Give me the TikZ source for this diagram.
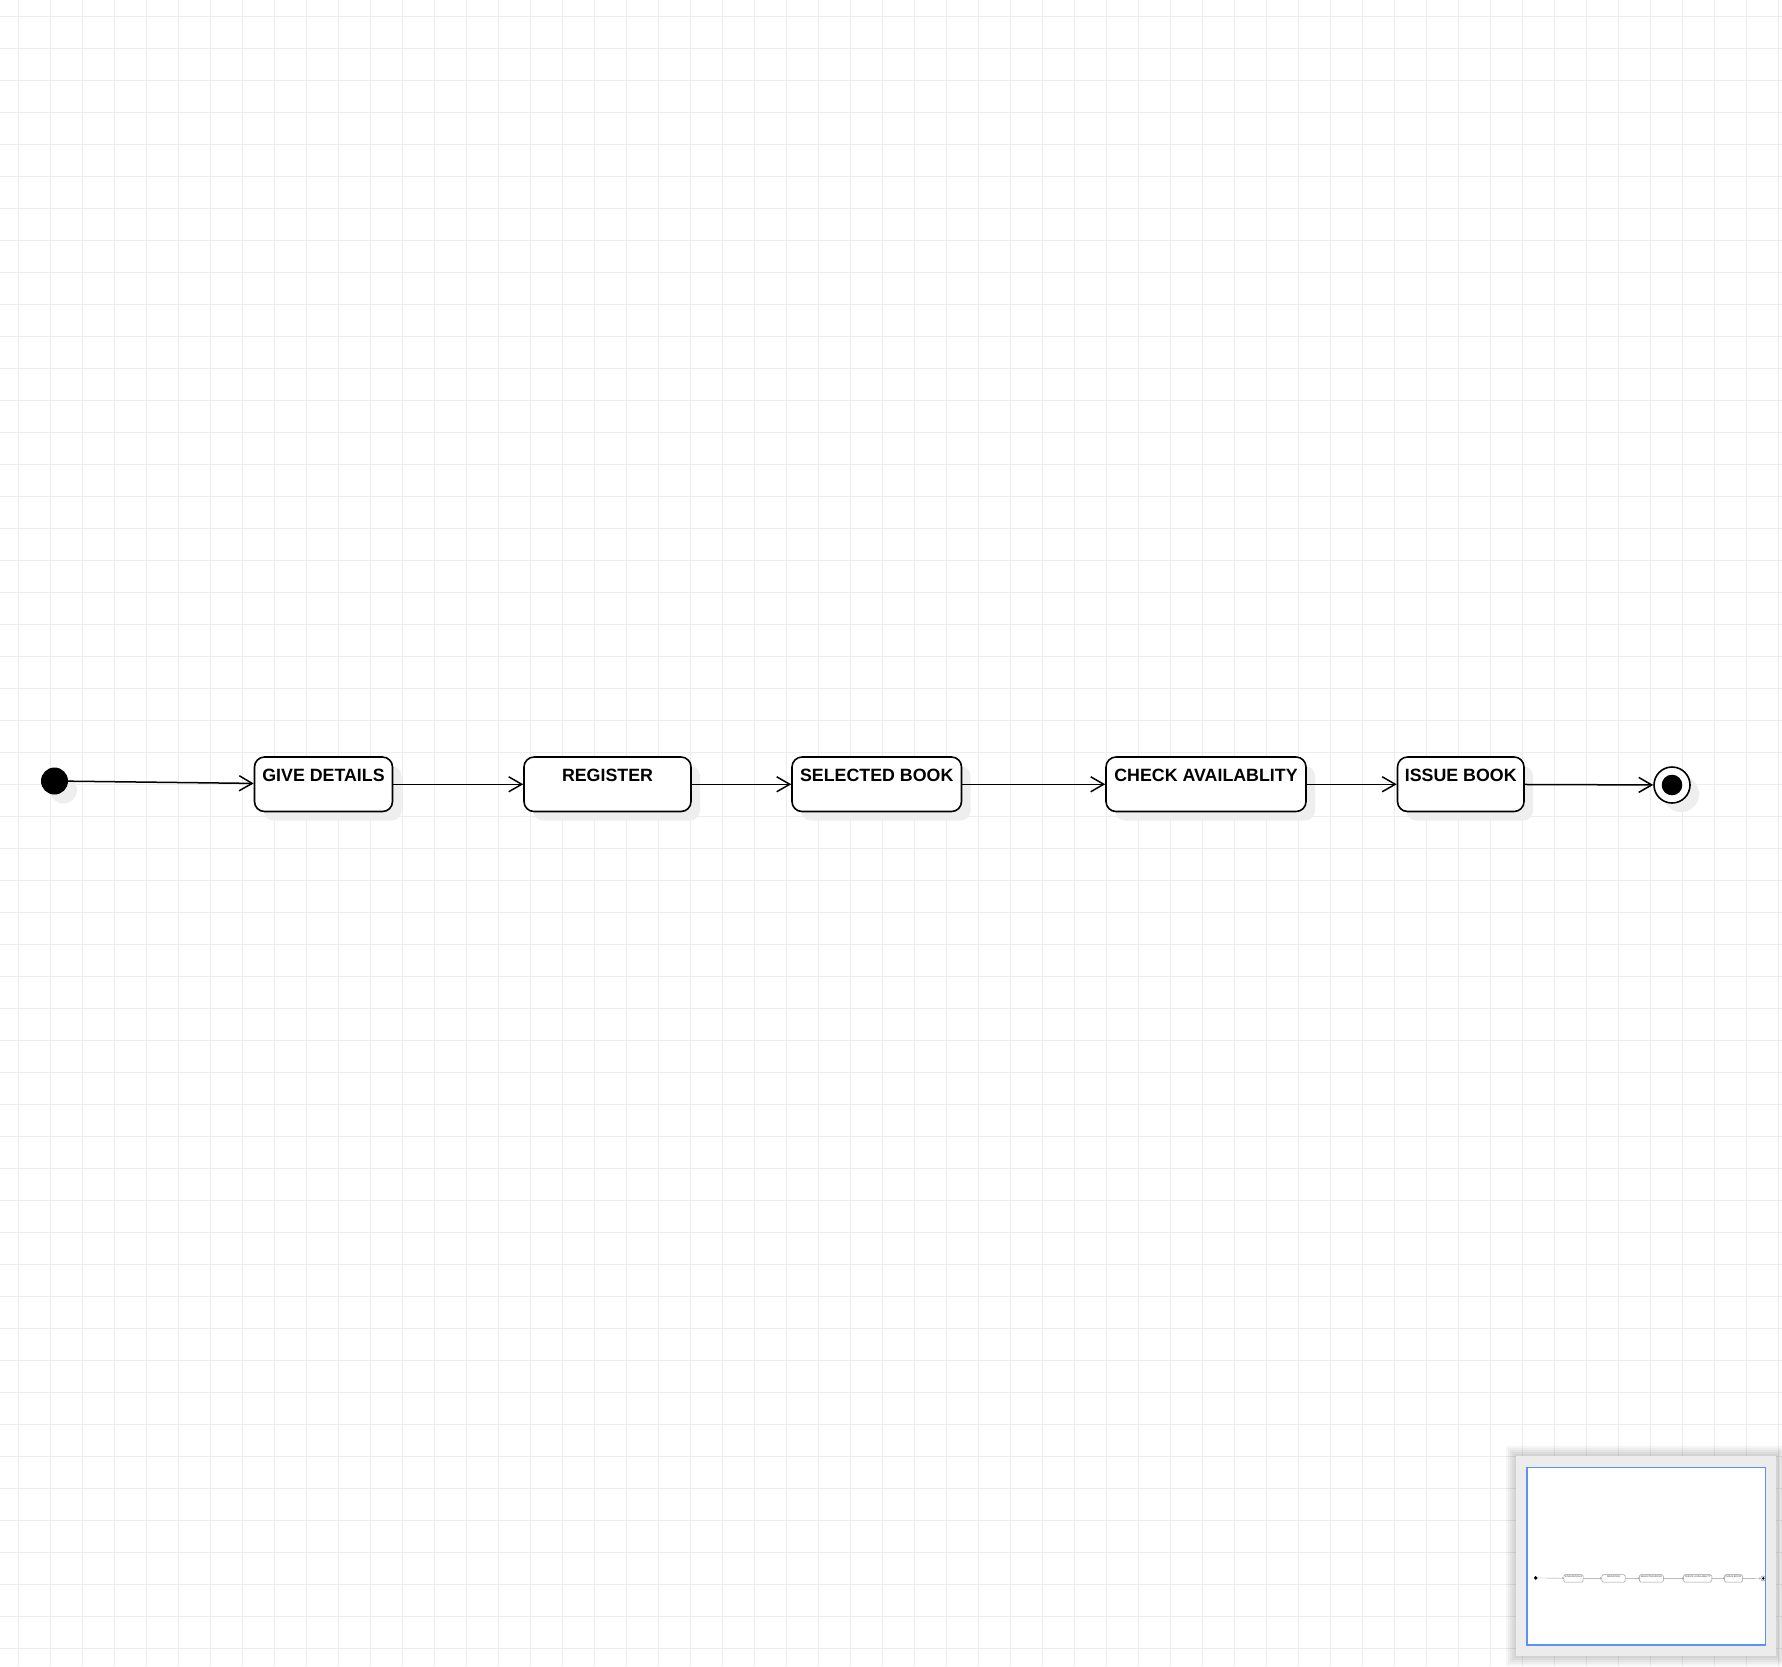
\documentclass[tikz,border=0pt]{standalone}
\usepackage{fontspec}
\setmainfont{Liberation Sans}
\usetikzlibrary{arrows.meta,shadows}

\definecolor{gridgray}{RGB}{236,236,236}
\definecolor{shadegray}{RGB}{238,238,238}
\definecolor{panelgray}{RGB}{236,236,236}
\definecolor{viewblue}{RGB}{95,145,245}

\tikzset{
  shadowed/.style={drop shadow={shadow xshift=9pt,shadow yshift=-9pt,fill=shadegray,opacity=1}},
  outline/.style={draw=black, line width=1.6pt},
  boxround/.style={rounded corners=10pt},
  statebox/.style={shadowed, outline, rectangle, boxround, fill=white,
    minimum height=54.5pt, inner xsep=4pt, inner ysep=10pt,
    text height=14pt, text depth=20.5pt,
    font=\fontsize{17.8}{20}\selectfont\bfseries},
  startdot/.style={shadowed, circle, fill=black, minimum size=27pt, inner sep=0pt},
  enddot/.style={shadowed, circle, outline, fill=white, minimum size=36pt, inner sep=0pt},
  endcore/.style={circle, fill=black, minimum size=20.6pt, inner sep=0pt},
  flow/.style={draw=black, line width=1.5pt, -{Straight Barb[length=13pt,width=15pt]}},
  gridline/.style={draw=gridgray, line width=1pt},
}

% the state chart, with a prefix for its node names
\newcommand\librarychart[1]{%
  \node[startdot] (#1init) at (54.5,781) {};
  \node[statebox, minimum width=138pt]   (#1give) at (323.5,784.25)  {GIVE DETAILS};
  \node[statebox, minimum width=167pt]   (#1reg)  at (607.5,784.25)  {REGISTER};
  \node[statebox, minimum width=169.5pt] (#1sel)  at (876.75,784.25) {SELECTED BOOK};
  \node[statebox, minimum width=200pt]   (#1chk)  at (1206,784.25)   {CHECK AVAILABLITY};
  \node[statebox, minimum width=126.5pt] (#1iss)  at (1460.75,784.25){ISSUE BOOK};
  \node[enddot] (#1fin) at (1672,785) {};
  \node[endcore] (#1fincore) at (#1fin) {};
  \draw[flow] (#1init) -- (#1give);
  \draw[flow] (#1give) -- (#1reg);
  \draw[flow] (#1reg) -- (#1sel);
  \draw[flow] (#1sel) -- (#1chk);
  \draw[flow] (#1chk) -- (#1iss);
  \draw[flow] (#1iss) -- (#1fin);
}

\begin{document}
\begin{tikzpicture}[x=1pt,y=-1pt]
  \useasboundingbox (0,0) rectangle (1782,1666);
  \fill[white] (0,0) rectangle (1782,1666);

  % background grid
  \foreach \gx in {18,50,...,1778} \draw[gridline] (\gx,0) -- (\gx,1666);
  \foreach \gy in {16,48,...,1648} \draw[gridline] (0,\gy) -- (1782,\gy);

  % main chart
  \librarychart{}

  % overview panel
  \foreach \d in {10,8,6,4,2}
    \fill[black, opacity=0.035] (1516-\d,1456-\d) rectangle (1776+\d,1656+\d);
  \fill[panelgray] (1516,1456) rectangle (1776,1656);
  \fill[white] (1526.7,1467.3) rectangle (1765.3,1644.7);
  \begin{scope}[shift={(1528,1468)}, scale=0.1407, transform shape,
      shadowed/.style={},
      boxround/.style={rounded corners=1.4pt},
      outline/.style={draw=black!40, line width=0.5pt},
      flow/.style={draw=black!40, line width=0.4pt, -{Straight Barb[length=1.2pt,width=1.6pt]}},
      every node/.append style={text=black!55}]
    \librarychart{mini}
  \end{scope}
  \draw[viewblue, line width=1.6pt] (1526.7,1467.3) rectangle (1765.3,1644.7);
\end{tikzpicture}
\end{document}
